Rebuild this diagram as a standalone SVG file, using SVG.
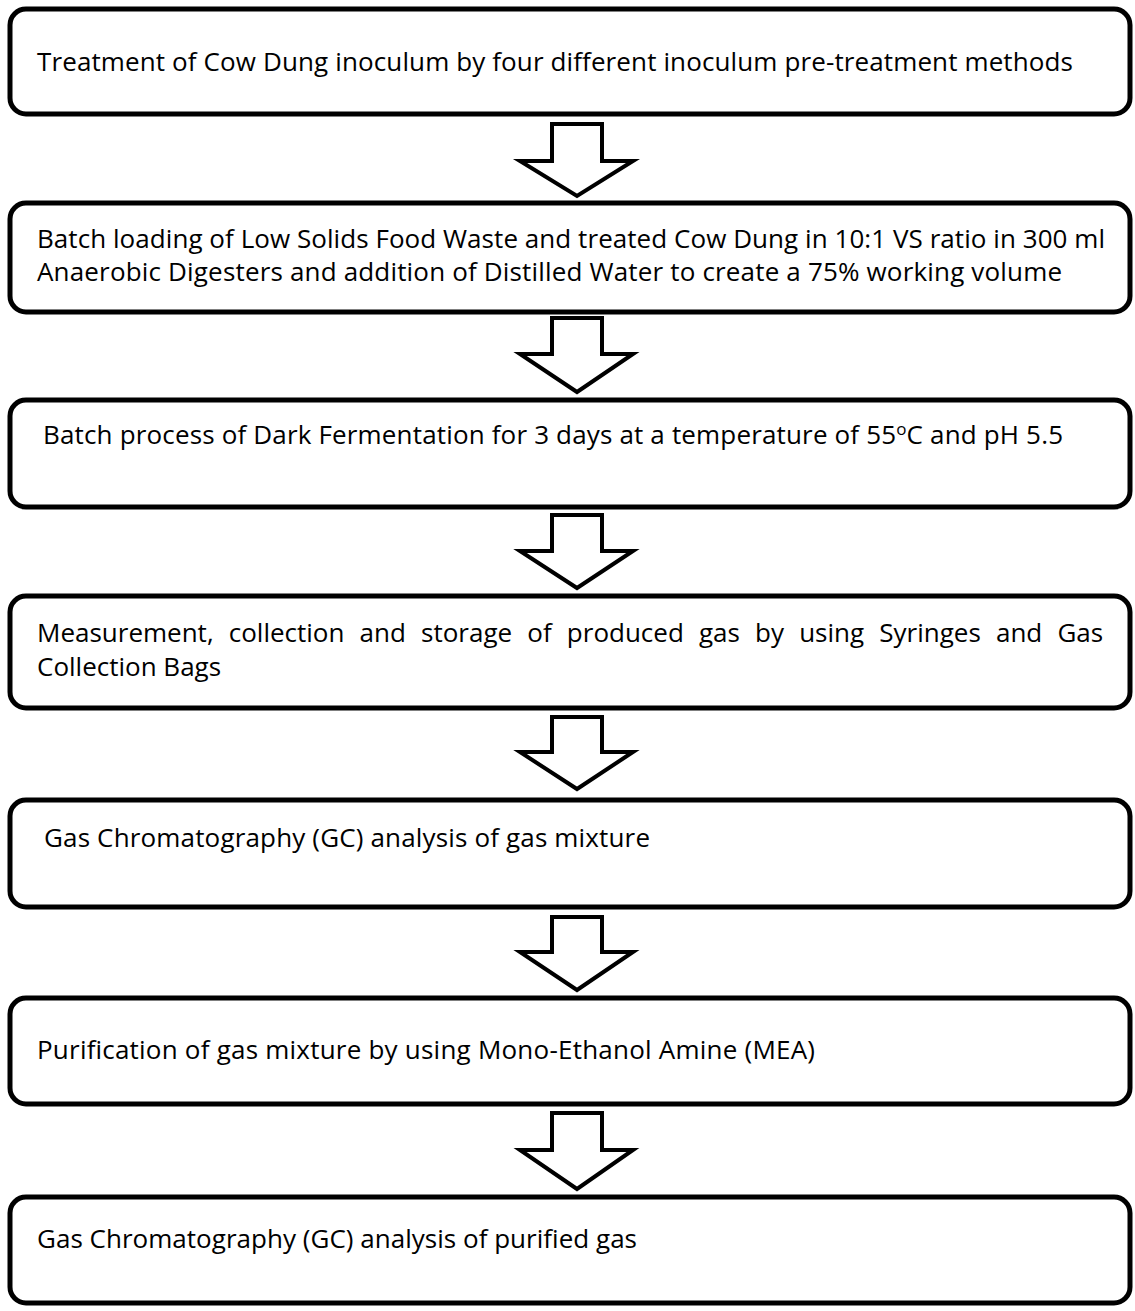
<svg xmlns="http://www.w3.org/2000/svg" width="1135" height="1311" viewBox="0 0 1135 1311">
<style>
.box{fill:#fff;stroke:#000;stroke-width:5}
.arr{fill:#fff;stroke:#000;stroke-width:4;stroke-linejoin:miter;stroke-miterlimit:10}
.t{font-family:"Open Sans","Noto Sans","Liberation Sans",sans-serif;font-size:26px;fill:#000}
</style>
<rect width="1135" height="1311" fill="#fff"/>
<g id="connectors">
<polygon class="arr" points="552,124 602,124 602,161 633,161 577,196 520,161 552,161"/>
<polygon class="arr" points="552,318 602,318 602,354 633,354 577,392 520,354 552,354"/>
<polygon class="arr" points="552,515 602,515 602,551 633,551 577,588 520,551 552,551"/>
<polygon class="arr" points="552,717 602,717 602,752 633,752 577,789 520,752 552,752"/>
<polygon class="arr" points="552,917 602,917 602,952 633,952 577,990 520,952 552,952"/>
<polygon class="arr" points="552,1113 602,1113 602,1150 633,1150 577,1189 520,1150 552,1150"/>
</g>
<g id="node1">
<rect class="box" x="10" y="9" width="1120" height="105" rx="16"/>
<text class="t" x="37" y="71" textLength="1036">Treatment of Cow Dung inoculum by four different inoculum pre-treatment methods</text>
</g>
<g id="node2">
<rect class="box" x="10" y="203" width="1120" height="109" rx="16"/>
<text class="t" x="37" y="248" textLength="1068">Batch loading of Low Solids Food Waste and treated Cow Dung in 10:1 VS ratio in 300 ml</text>
<text class="t" x="37" y="281" textLength="1025">Anaerobic Digesters and addition of Distilled Water to create a 75% working volume</text>
</g>
<g id="node3">
<rect class="box" x="10" y="400" width="1120" height="107" rx="16"/>
<text class="t" x="43" y="444" textLength="1020">Batch process of Dark Fermentation for 3 days at a temperature of 55<tspan font-size="17" dy="-9">o</tspan><tspan dy="9">C and pH 5.5</tspan></text>
</g>
<g id="node4">
<rect class="box" x="10" y="596" width="1120" height="112" rx="16"/>
<text class="t" x="37" y="642" word-spacing="8.4">Measurement, collection and storage of produced gas by using Syringes and Gas</text>
<text class="t" x="37" y="676">Collection Bags</text>
</g>
<g id="node5">
<rect class="box" x="10" y="800" width="1120" height="107" rx="16"/>
<text class="t" x="44" y="847" textLength="606">Gas Chromatography (GC) analysis of gas mixture</text>
</g>
<g id="node6">
<rect class="box" x="10" y="998" width="1120" height="106" rx="16"/>
<text class="t" x="37" y="1059" textLength="778">Purification of gas mixture by using Mono-Ethanol Amine (MEA)</text>
</g>
<g id="node7">
<rect class="box" x="10" y="1197" width="1120" height="106" rx="16"/>
<text class="t" x="37" y="1248" textLength="600">Gas Chromatography (GC) analysis of purified gas</text>
</g>
</svg>
